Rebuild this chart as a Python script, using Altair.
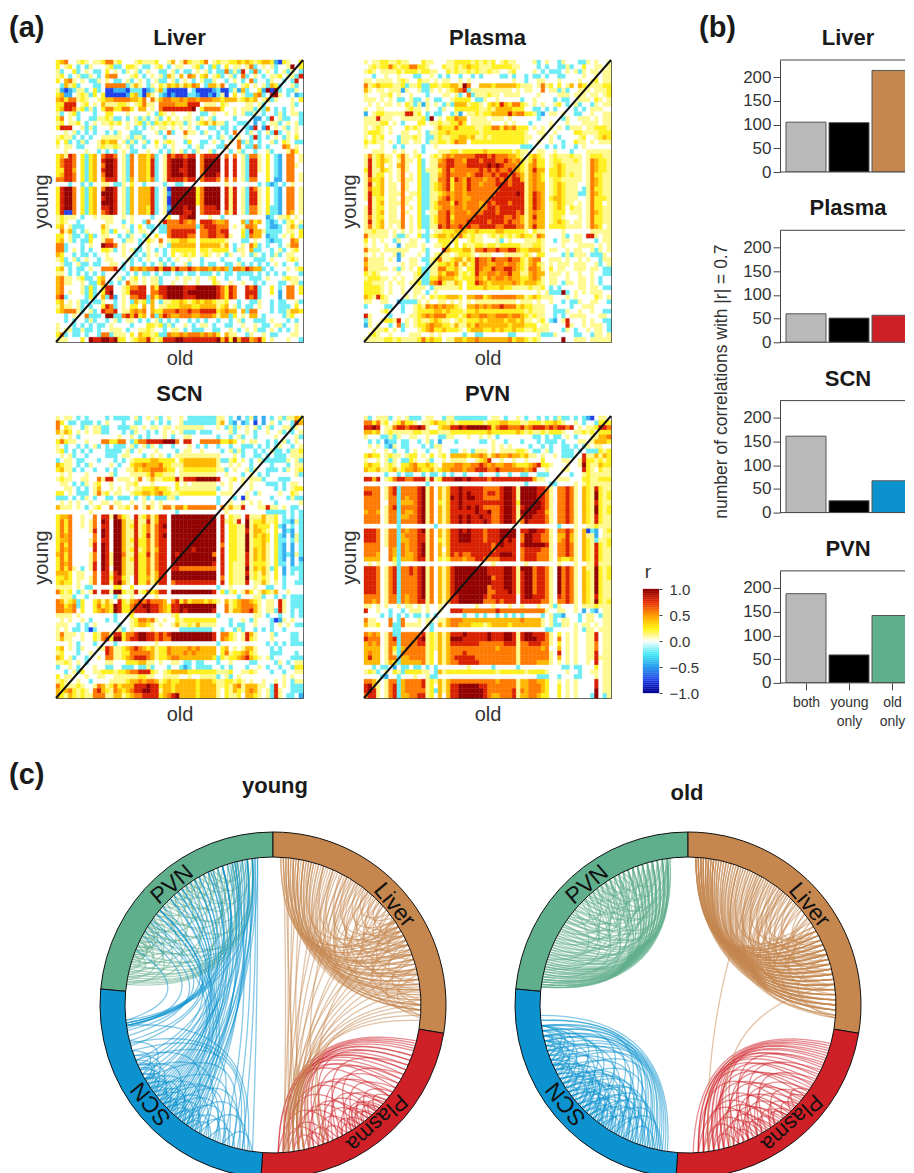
import math
import altair as alt
import pandas as pd
alt.data_transformers.disable_max_rows()
FONT = "Liberation Sans"
INK = "#333333"
DARK = "#1A1A1A"
# Colour classes, 0 = blue ... 3 = white ... 9 = dark red
LEVEL_COLORS = ["#2040E8","#35AEF0","#6CEDF6","#FFFFFF","#FFFA90","#FFF020","#FFB800","#FF7A00","#D92000","#920000"]
LIVER_M = """5673345434 4577453334 5444533463 4754457345 4455656545 6651054335
5345323243 3345223554 3223453234 4334523252 3534434723 4342334935
4233523432 2353432434 2343322342 3223434232 2724283272 3432342432
4532342243 2367733345 3234342643 6376356345 2342372343 2344534428
5367434322 4343223423 4323422342 3432342243 3234323723 3243323283
3264523332 2377777246 4324354656 4657632664 7322345343 4265233423
4101244235 2300111022 2012462000 0032000012 0024162335 1909232243
5611345425 3500000156 2064321010 0022100102 4035342267 2389432312
6757745433 4566777766 5737467766 7677677766 5666456563 4624333435
5588834534 3644455434 5744377776 6688834443 5433334434 2333333423
5688745242 3577557753 6634378888 8889357777 5334344424 2632323433
4234523332 3355333433 3343254343 3343322343 3434342243 2332423442
5734323322 4454223234 2423423534 3443243423 3332333311 3283422332
4534453234 3445453434 5242545454 4243456464 4233222313 2344234342
5888334242 3334333432 3234344343 4343233223 2232332183 1834342343
3343423232 3323243322 2333423723 3744324332 3237332432 3428234343
4544232323 3444443424 4233332333 3433333232 4323433282 3234324353
5352324233 4656634242 3423534543 3253322343 2343724232 3342354322
4344322333 4544543423 3233432343 3323423332 2733732272 3233376343
3343333433 2323234322 3343323243 4232433423 3323423323 3423334753
5648735256 3788734273 6657234878 8788378888 3737342774 3532137734
5788735256 3899834273 6658234899 9899379999 3838342884 3532137734
5788735256 3799834273 6658234899 9899379999 3838342884 3532137743
5588635256 3899834273 6658234899 8899379999 3838342884 3532137733
5688735256 3799834273 6658234899 9899379998 3838342883 3532137734
7788735256 3688834263 6657234888 8788378887 3737342773 3531137734
3332332323 3443224353 3233332332 2333333333 3433333332 3212323433
5899735256 3799834263 6668234099 9999579999 3848342874 3532137734
5899735256 3999834263 6668234199 9999579999 3848342884 3532137734
5899735256 3899834263 6668234099 9999579999 3848342884 3532137734
5899735256 3999834263 6668234099 9999579999 3848342884 3532137734
5899735256 3889834263 6658234199 9899378889 3848342774 3522137734
5800735256 3789834263 6658234099 9889378888 3748342774 3522137634
4544432334 3444334343 3332333533 8899333433 2333333333 3123445343
4543323333 3344332343 3273348777 8767388876 6733362756 3212324534
5634222333 3643334323 5322322777 7777278887 7734347763 3211234642
3746232433 3542533423 4432322788 8888377887 8833352866 4222234435
5534223252 3443323243 3243533788 8877377887 7843352766 3122343535
5634232253 3477332443 2354373455 6655355555 5433322343 3212233763
7723332343 3988734333 2343343266 6666366666 4632343752 3233234773
7723432323 3554234342 2343232355 5555355455 5532443622 3323423453
6533232232 3343334332 3243432353 4545345434 3243343243 2324234433
4523423433 2344333423 2343323234 3343323333 2333233322 2343334543
3422342232 2334432323 3232342323 3423323223 3223423232 3234323323
5632322343 3777832376 7677868868 7787677676 7627768766 2323334345
4432323232 3233333232 3223232232 2322322232 3223222232 3232323332
6744345223 5633342345 3434423334 3443433453 3233233222 3433345443
6744334322 5732323744 3434423343 3433433354 3343343323 2333223442
6733334252 3588334577 8837588999 9888999998 7587338782 3353237735
6734334252 3589334588 8837788999 9899999998 7587338882 3353137735
7823333252 3628134377 8827578999 9888999998 7587338782 3333137733
5634342232 2433234326 4526324455 6545656654 4533233224 3323223342
4644342323 3587234355 3636344555 6665566664 5634232234 3323222353
5677742342 3877834467 6736557778 7787788885 6766362773 3323224665
3323433722 2399227868 5637268766 7776677764 6625343663 2333324533
3323233242 3323423443 2323423232 3323232332 3323423322 2343332323
4333232323 2234333323 3355452423 3432344323 3223343343 2234423343
4344224223 2334443233 4454332344 3232223322 3343234342 2343232343
5723223233 2772444353 6554522766 7677767675 3644332433 4322333443
4443335398 8998955345 6685458889 9888888889 6859688678 5343334332""".split("\n")
PLASMA_M = """4344554454 4333544333 4455554545 4534544333 3423433243 3322434334
3454557545 5775543335 4454565544 4555554433 3323233224 2335334434
4543444454 5554554433 5454454544 5443345333 3432322234 3424344344
3323343343 3322334323 2332332323 3332232332 3223233223 3334334344
4434444345 4335443434 4334343333 3333334332 3344333433 3343345344
7456555445 2445225545 5664973366 6566666544 4347453534 6365444455
6434434441 4334224343 4567824444 4444443434 4337344242 3344434445
4333445343 3433323334 4342372444 5443444433 3343333444 3444344345
4443434322 3422343223 3455553224 3343333323 3433332322 3344435434
3434344343 5424143432 4266645543 5658657754 3434334532 3423324344
4334433333 4544343324 3355555544 5466665553 3223232333 3232344433
1345544444 8845323223 3241344545 5666686775 5421344343 3223343344
4448444334 4444529343 5576634444 3444343333 3323333324 3344434344
4444553432 3335534454 4557534444 4333434333 2333343334 3334444344
4345434333 5454333465 5575555445 5775767555 3434343432 4443445554
4555434334 4334324455 6555555545 5555555554 3344334333 3554444555
4354533324 4454322454 4556656445 4555555554 4334343233 3345334565
5454434324 4344324455 4576635555 5555555554 3343343323 3544343444
4333433232 3333233433 3333333333 3333333322 2333232323 3234333333
3344433434 3343233344 4554555556 5555554544 3344334333 2333444444
4745644357 4345334546 7677777888 7877766543 5654345444 5443455544
4845654347 4435234467 8877688878 8877876754 5755345544 4543476554
4845634367 4335234477 8877788888 9898777654 6755345654 4443476554
5844654347 4335244457 8677777787 8787787654 6866355654 4443476554
4845534347 3435224467 8777767887 7878878764 6765355654 5443475544
4755634347 4435224477 8587687776 7787878864 6765345544 4443476544
4845634437 4335224567 8577687767 7788878884 6766345654 4433476544
4755634437 4335224567 8577687777 7778888884 6766345654 4432475544
4855634447 3445224456 7677677777 7788888984 6876345654 4422476544
4845534437 4435224467 8677667777 7888888884 6876356654 4433475554
3845634447 4335224577 7587677767 8788878884 6876345654 4343475534
4845534437 3435224567 7677677767 8878888884 6876345653 5443475544
4845634437 4335234477 8677767778 8878888784 6766345553 4443476544
4745534437 3435224577 8577777888 8888778764 6866345543 3343475544
4845634447 3435224577 8677788888 7888787764 6766345654 3443475544
4745634347 3435224487 8778787788 8877888774 6866355554 4443476534
4454443434 3434323445 5566655655 5566555554 3544333343 3333344444
7444443422 4335224566 5657545443 4545454565 5476333342 3443884344
5343433243 3443323355 5453345443 3342343334 4454332344 3443332344
4343343313 4443433445 5353544554 5545555544 4554333343 3344443434
7444344444 4333423338 6555664778 7787788655 6664344334 3443342434
4343433414 3334323454 4345554344 4333444445 4355333324 2444322243
7444434313 3443224574 4566465877 6877787754 6773344434 3343433244
6444433334 3443324455 6574645877 6677677654 6754343444 3444334234
7444443424 3435224477 5564355876 6877887654 7764353443 3444344322
5454333343 3345224465 7764545866 7767786644 6766344434 3343343322
4555443434 3344225576 6654555765 7677676655 6764344334 3344343233
5544434344 3445226785 4465355876 5666667656 6654344324 4344343233
5555434334 3344432444 4445355556 5556554444 5445323233 3344344322
5555434334 3344323433 3333333333 3333333333 3343422292 3434344433
6548543333 4343435455 6665366775 6777777664 5654443334 3433335434
4433443312 2224343344 3434343444 4444444344 4343343323 2243344332
2333322332 3345476767 6654366767 6778777565 5444332333 2334443333
3333453332 3345555665 6555455655 5555555554 5444332224 3343343322
8433332333 3445676777 5554576677 6677767765 4544332323 4444333443
2433455483 4345445654 4345455565 6666566564 4345321348 3334343322
1434332372 4345567665 5464465766 6666656665 5534433338 4334344432
3344453432 3334567556 5554356665 5656556554 4544433324 3233434432
3454334333 3444334343 3333233223 3333322333 3342224333 3223324434
4444455454 4445756553 4466566766 6666675665 4543333393 3444344444""".split("\n")
SCN_M = """4344323233 3323222234 2343423433 4322222224 4323132413 1323424465
7532232223 2343332332 2332323233 4222222224 6321312303 1343233286
7354332434 4223322244 3434434434 4444443334 3242434342 3423344243
6465343434 4223332324 3323234343 4222322233 3342334323 3433423234
3434323333 3333343343 2323334323 3443333332 3323423323 3334333342
5754433433 3775577325 7788889997 3883377777 5565343443 3232342343
4323323234 2323222342 3424323323 3343232332 3323322232 3232433234
4523232323 3322223423 4333433332 3443343333 2342423323 2342232445
3434233233 3322234433 3234343234 4444444444 3334323322 3232223444
2344322333 2333232345 5556655553 5666666664 2245343234 2222224342
6544323243 3334323356 6766675544 4666666664 3343433233 3323332344
5644232332 3323233446 5667776553 4555555554 4234334243 3222324345
3434333433 3334233344 4457554443 4444444443 3433323432 3233333342
4544334433 7488344434 7346445558 4888999998 3345343444 2333222333
3443232434 5334333445 3334333335 3434444443 4343343433 3222323443
3344323234 6334343434 4555655435 4444444442 3343333433 3332323455
5534322234 7453443345 5665675544 5555555553 4443334324 3333433543
2223232432 3322322232 3423222442 3333333332 3332304333 3323332422
3434343343 3443443343 3434343333 3333333332 3343343434 3332333334
6444343234 5337344537 3474347747 7577777773 7464483334 4844343223
3333333343 3333333333 3333333332 3333333333 3433333333 3222223232
5667334337 3884975438 4574688399 9999999993 8354438444 6445323232
5757334347 3983996448 4484688399 9999999993 8454839455 6445322142
5757334347 3883996458 4574789399 9999999993 8355449465 5535213232
5757333348 3983996448 4574788399 9999999993 8355448466 5435312132
5767333337 3983996448 4584789399 9999999993 8355449465 6535213142
5667333347 3883996458 5574788399 9999999993 8355449455 6535223242
5757333348 3983996448 5574788399 9999999993 7355449455 6435213132
5767333338 3983996458 4574688399 9998999993 8355449465 6435213132
6757333347 3984997448 5584788398 9999999973 8355448465 6435212142
5757333347 3984996458 5574788399 9999999993 8355448465 6435213131
5767333348 3984996448 5574788399 9999999983 8354448455 5435223132
5757432348 3983996448 5574788388 7777777773 8354449465 6425313222
6665344337 3884896448 5574688399 9999999993 8354448454 6435313232
5565344347 3885885438 5564688399 9999999993 7354449454 5435323332
5655343347 3884896438 5574688378 8888888883 8354448344 6434323322
4444343223 3333553353 3333333333 3333333332 3343333343 3223323333
7545324348 3884995448 4575688399 9999999983 5245347534 6546334333
3444233233 3333243343 3333433333 3333333333 3333233344 2332323222
7645625335 6464385467 8787776378 5756665654 3645677654 3443843222
7756725335 7565985578 8998876588 9999999993 3745677764 3443843222
7766735335 6765985578 8898876588 9899999983 3746677864 3442843232
4444343333 3333233353 3333333345 3333333332 3333333344 3233233232
3434334323 3323233345 7767434335 4555555553 3323343243 3320143433
4443323234 3333323345 6654343346 4454644443 3323223343 3323434322
4343223202 3333342343 3334333333 2222222233 2332423323 2323323333
4744434335 4774885778 9988787899 9999999983 7754348643 3342333223
4644334335 4785995788 9988787799 9999999983 7654348543 3343333223
3334323332 3333233333 3333433333 3333333332 3333333333 3232323222
5634324333 4487445678 7656455766 6676766663 5634346643 3323233333
4533323343 3387445577 7776455766 6767666663 5745567543 3322233323
6534233233 4377445678 8876455677 6666666652 5455678654 3423333222
4454343233 3344333555 6644343344 3223223332 3343333223 3332432344
2334323334 3322332223 2242333233 2123222233 2323332334 3233233255
3323425334 4555455677 8885434566 6655555554 4453344543 3323323344
5344333433 4433444444 5544334444 3343344442 3423433333 3333343433
4543343323 3334444566 7677645655 6666566654 4554543433 4334343244
7544454334 7645756668 8898856656 6666566664 4546746664 4328343222
6567545437 8654765678 8998846656 6666566664 3546546764 3428433222
6546545447 7744664567 7888856789 6666566664 3544536654 3428432231""".split("\n")
PVN_M = """4234442343 4222344332 4422222222 3443233432 3323232422 3232103443
7757453457 5543445655 4545555554 5556655544 5554556543 3432332555
8898344788 7889843356 6889899999 8578877786 7888787887 8343445887
6656345444 4455445544 4555555555 6555555654 5445455543 3445453555
4333224243 3443343322 4433343343 4323333333 3223232234 3233344667
3232312232 2332342313 3323333322 3433233323 3323222323 3344346665
3434321432 2333232443 3333333333 3434343333 2332323322 3232434433
3343343233 2343323343 3223432444 3434444554 3223423322 2323222545
5655345443 4553435345 3666656676 4676676656 4434334322 2338446465
4334342432 2543342334 3444433456 8334334334 3335333344 3348554545
5655345435 5675565436 6677667787 6766776555 6785543334 3349544655
6556445645 6676556456 6777677888 7787777776 7833433344 3338543544
3333323323 2233232232 3233233323 3323323322 3322233333 2334544444
8868345788 7788848458 8899898888 7888888888 8644333444 3335544555
3333333333 3333323333 3333333333 3333333332 3333322333 3434544444
7777347827 7778947364 6889888887 7778998499 9988743778 7436548544
8877347827 7778947364 6889898887 8878998499 9988743778 7436549545
7777347727 6778947364 6989899887 7778998499 9988743778 7436549545
7777337726 6678947354 6889888888 8888998599 9998743778 7436548544
7777347827 7778947364 6889898987 7778998489 9998743778 7436549545
6776347727 6678947364 6888888988 9778998499 9988643778 7436549545
7777347726 6778947364 6889898898 8778998489 9888743778 7436548544
7777347727 7778947364 6889898889 8778998479 8888743778 7436548544
3333333323 3333333233 3333333333 3333333333 3333333233 3433445444
8887347727 6778947364 6889898887 8889999388 9988743778 7436021345
8887347726 7778847364 6889998887 8889999379 9887743668 6436441344
8887347726 6778847354 6889998887 8889898379 9887743678 6436542445
7777347727 6778947364 6888888888 8789888389 9999843778 7436548545
7777337627 6778947363 6888888888 8788888378 8887743778 7436548544
7776337627 6678947364 6878778888 8889998378 8877743778 7436548544
6666337526 6678847354 5777677887 7778888378 8877743655 6436548544
3434333423 3333333333 3333333333 3433333334 3333333433 3433448444
8887347827 7878947364 6899999999 8888998499 9788743978 7436449545
8887347827 7878947364 6899999999 8888998489 9788743978 7436549545
8887347827 7778947364 6899999999 9788998489 9788743978 7436549545
8887347827 7778947364 6899999999 9888998489 9788743978 7436549544
8887347827 7778947364 6899999999 7888998489 9788743978 7436549544
8887347827 7778947364 6899999999 7788898489 9788743978 7436549544
7777347727 6778947364 6889999998 7888888389 9888743878 7436548544
7767347727 6778847364 6889999997 7787888388 8887743778 7436549545
4434343343 4434343343 3333333433 3433343343 3343342433 3434445444
8334332332 3444343343 3888777777 7787777777 7777433443 3431321344
3333232323 2322323233 3333233232 3323232323 3332342213 3323443244
7443337327 3334344344 6777666666 6666666676 6664342344 3323443344
6445337227 4444342364 6776665554 5666656666 6664342244 3434434344
3333333223 3333332333 3333333333 3333333333 3333223333 3432443444
7676347227 7777845464 6888988888 9888998489 9888743534 3433448344
8777347827 7778945464 6999888888 9888998489 9988743734 3433448344
6767347727 7778845464 6888888877 7777888477 8887743534 3433447344
6666347526 7777745464 6777777777 7767777477 7776733634 3433447344
6766347427 7777745364 6777877777 7777777477 7777743834 3433448344
6866347726 6777745364 6788888777 7777777477 7777743634 3433448444
6666346526 6666745364 6778888877 7777777477 7766643434 3433438344
3323223132 2322323233 3333343333 3233333233 3333333322 3223335344
4542343542 5555443264 5555555555 5545555554 5555433334 3323344344
3333213323 3343342233 3333333333 3333333333 3322233233 3223334344
7764347726 7777845464 6777777777 7767777466 7766533434 3433338344
8964347826 7777845364 6889999988 7777777466 7776533534 3433338344
8984347826 7777745264 6889999998 7777778476 7776533534 3433339344
7884347826 6778845363 6889999998 7667778466 7765533534 3433329324""".split("\n")
BAR_CATS = ["both","young only","old only"]
BARS = {"Liver":[105,104,214],"Plasma":[60,51,57],"SCN":[161,25,67],"PVN":[188,59,142]}
COL = {"Liver":"#C6874F","Plasma":"#CF2027","SCN":"#0C93CF","PVN":"#5FAE8C"}
SECT = {"PVN":(275.3,360),"Liver":(0,99.4),"Plasma":(99.4,184),"SCN":(184,275.3)}
# Chord end points, degrees clockwise from the top of the ring
Y_LIVER = "3-62 3-70 4-78 4-85 5-58 5-66 6-74 6-82 6-92 7-60 7-69 8-76 8-84 8-90 9-56 9-64 10-72 10-80 10-88 11-62 12-58 12-68 12-76 13-84 13-92 14-55 14-66 15-72 15-80 16-60 16-87 17-70 18-77 18-64 19-83 20-92 20-58 21-68 22-74 23-86 24-62 24-80 25-70 26-90 27-60 28-76 29-66 30-84 30-58 31-72 32-62 32-90 33-78 34-66 35-82 35-56 36-70 37-60 37-88 38-76 38-52 39-64 40-82 40-58 41-70 42-54 42-78 43-62 44-68 44-86 45-56 46-74 47-60 48-66 48-80 50-62 52-70 52-92 54-66 55-78 56-84 58-72 60-90 62-94 64-82 66-92 70-88 72-95 75-90 78-94"
Y_LIVER_PLASMA = "4-176 6-174 8-172 10-176 5-170 12-168 15-174 20-170 24-175 28-172 34-170 40-174 46-168 50-172 55-170 60-175 64-168 68-172 72-170 76-166 80-172 84-168 88-174 90-160 92-170 94-165 96-172 30-160 58-158"
Y_PLASMA = "104-178 105-174 106-170 107-166 108-176 110-162 110-172 112-168 112-158 114-174 114-152 116-164 116-178 118-170 118-148 120-160 120-176 122-154 122-168 124-146 124-172 126-158 126-140 128-164 128-176 130-150 130-144 132-170 132-156 134-148 134-142 136-160 136-174 138-152 138-146 140-166 140-158 142-150 142-176 144-154 144-170 146-162 146-152 148-172 150-160 152-178 154-166 156-174 158-168 160-176 162-172 128-136 131-139 133-145 135-147 137-143"
Y_SCN = "190-262 192-255 194-248 196-240 198-235 200-230 202-225 204-252 206-218 208-244 210-222 212-236 214-228 216-250 218-232 220-240 222-230 224-246 226-238 228-236 230-242 232-246 234-244 236-250 238-248 240-256 242-252 225-232 215-224 205-214 195-206 188-200 189-210 191-218 193-226 197-212 199-220 201-216 203-232 207-228 209-216 211-226 213-222 217-226 219-234 221-228 223-238 227-234 229-240 233-240 235-242 237-245 239-247"
Y_SCN_PVN = "215-354 217-352 219-350 221-353 223-348 220-346 218-344 216-342 222-340 224-338 226-336 214-352 212-349 210-347 228-345 230-343 225-334 227-332 229-330 231-328 233-326 235-324 237-322 239-320 232-316 213-312 216-310 220-308 224-305 228-302 196-350 192-353 188-354 200-345 262-352 262-345 263-340 262-335 263-328 264-322 262-316 263-310 260-304 261-298 264-292 258-300 256-310 254-320 248-330 244-340 242-318 246-308 240-350 236-340 234-334"
Y_PVN = "278-352 279-346 280-340 281-335 282-350 283-328 284-344 285-322 286-338 287-316 288-348 289-332 290-312 291-342 292-326 293-308 294-336 295-352 296-320 297-306 298-344 299-330 300-314 301-350 302-324 303-338 304-318 305-346 306-328 307-312 308-340 309-322 310-352 311-334 312-318 313-344 314-326 315-350 316-336 317-324 318-342 319-330 320-348 321-334 322-328 323-346 324-338 325-332 326-352 328-344 330-340 332-350 334-346 336-348 278-300 279-310 280-296 281-306 282-292 283-302 285-298 286-304 288-296 290-300 292-302 293-304 295-303 284-290 287-294 289-297 291-299"
O_LIVER = "3-60 3-66 3-72 3-78 3-84 3-90 4-58 4-64 4-70 4-76 4-82 4-88 5-62 5-68 5-74 5-80 5-86 5-92 6-56 6-60 6-66 6-72 6-78 6-84 7-64 7-70 7-76 7-82 7-88 8-58 8-62 8-68 8-74 8-80 8-90 9-66 9-72 9-78 9-84 10-60 10-64 10-70 10-76 10-82 10-88 11-68 11-74 11-92 12-62 12-80 12-86 13-66 13-72 13-78 14-60 14-84 15-70 15-76 15-90 16-64 16-82 17-68 17-74 17-88 18-62 18-80 19-70 19-86 20-66 20-76 20-92 21-82 21-60 22-72 22-88 23-68 23-78 24-84 24-62 25-74 25-90 26-66 26-80 27-70 27-86 28-76 28-60 29-82 29-92 30-68 30-78 31-72 31-88 32-64 32-84 33-76 33-90 34-70 34-80 35-66 35-86 36-74 36-62 37-82 37-92 38-70 38-78 39-88 39-66 40-76 40-84 41-72 41-90 42-68 42-80 43-86 44-74 44-64 45-82 45-92 46-70 47-78 47-88 48-74 49-84 50-66 50-90 52-76 52-70 54-82 54-92 56-78 58-86 60-94 55-95 70-95 40-94 30-94 20-95"
O_LIVER_PLASMA = "28-172 82-163"
O_PLASMA = "105-178 106-174 107-170 108-166 109-176 110-160 111-172 112-168 113-156 114-174 115-164 116-152 117-170 118-158 119-176 120-148 121-166 122-154 123-172 124-162 125-150 126-168 127-144 128-174 129-156 130-164 131-152 132-170 133-146 134-160 135-176 136-156 137-166 138-150 139-172 140-158 141-162 142-152 143-168 144-174 145-156 146-164 147-170 148-160 149-176 150-166 152-172 153-162 155-168 157-174 160-170 138-146 132-140 128-136 125-134 136-144"
O_SCN = "188-266 189-262 190-258 191-254 192-250 193-264 194-246 195-260 196-242 197-256 198-238 199-252 200-264 201-234 202-248 203-260 204-230 205-244 206-256 207-226 208-240 209-252 210-262 211-222 212-236 213-248 214-258 215-218 216-232 217-244 218-254 219-228 220-240 221-262 222-250 223-234 224-246 225-258 226-238 227-252 228-242 229-260 230-236 231-248 232-256 233-244 234-250 235-262 236-246 237-254 238-248 239-258 240-252 241-247 242-256 243-262 244-254 245-260 196-228 198-222 200-220 202-216 204-226 206-222 208-218 210-224 212-228 214-226 216-224 218-232 190-210 191-215 192-220 193-206 194-224 195-212 197-218 199-230 201-226 203-236 205-232 207-238 209-234 211-240 213-230 215-236 217-238 219-234 221-242 223-240 225-244 227-246 246-256 248-258 248-262 250-262 250-256 252-258 254-260"
O_PVN = "277-353 277-346 277-338 277-330 278-352 278-344 278-336 278-326 279-350 279-342 279-332 279-322 280-353 280-346 280-340 280-328 281-351 281-336 281-318 282-348 282-342 282-330 283-352 283-324 283-338 284-346 284-334 284-314 285-350 285-340 285-328 286-344 286-320 286-352 287-336 287-348 288-330 288-342 288-310 289-350 289-326 290-346 290-338 290-316 291-352 291-332 292-344 292-322 293-348 293-336 294-328 294-350 295-340 295-318 296-346 296-332 297-352 297-324 298-342 298-336 299-348 299-328 300-344 300-320 301-350 301-334 302-340 302-326 303-352 303-346 304-332 304-316 305-342 305-348 306-328 306-338 307-352 307-322 308-344 308-334 309-350 310-340 310-326 311-346 312-332 312-352 313-342 314-336 315-348 315-324 316-344 317-338 318-352 318-330 319-346 320-340 321-350 322-334 323-344 324-352 325-338 326-348 328-342 330-352 332-346 334-350"
CB_TICKS = [-1,-0.5,0,0.5,1]
CB_STOPS = [(-1,"#00008B"),(-0.75,"#2040E8"),(-0.5,"#2C9CF0"),(-0.25,"#3FE8F4"),(0,"#FFFFFF"),(0.25,"#FFF200"),(0.5,"#FF9A00"),(0.75,"#E62A00"),(1,"#8B0000")]

def cb_colour(v):
    for (a,ca),(b,cb_) in zip(CB_STOPS,CB_STOPS[1:]):
        if a<=v<=b:
            t=(v-a)/(b-a)
            p=[int(ca[i:i+2],16) for i in (1,3,5)]
            q=[int(cb_[i:i+2],16) for i in (1,3,5)]
            return "#%02X%02X%02X"%tuple(round(x+(y-x)*t) for x,y in zip(p,q))
    return CB_STOPS[-1][1]

def label(t,x,y,size=22,bold=True,align="center",angle=0,color=DARK):
    kw={"angle":angle} if angle else {}
    return alt.Chart(pd.DataFrame({"t":[t]})).mark_text(font=FONT,fontWeight="bold" if bold else "normal",fontSize=size,align=align,color=color,**kw).encode(text="t:N",x=alt.value(x),y=alt.value(y))

def heat(name,rows,extra=None):
    recs=[]
    for i,s in enumerate(rows):
        s=s.replace(" ","")[:60].ljust(60,"3")
        for j,c in enumerate(s):
            recs.append({"row":i,"col":j,"c":LEVEL_COLORS[int(c)]})
    ax=dict(labels=False,ticks=False,domain=False,titleFontSize=20,titleFontWeight="normal",titleFont=FONT,titleColor=INK)
    base=alt.Chart(pd.DataFrame(recs)).mark_rect(strokeWidth=0.4).encode(
        x=alt.X("col:O",axis=alt.Axis(title="old",titlePadding=6,**ax),scale=alt.Scale(paddingInner=0,paddingOuter=0)),
        y=alt.Y("row:O",axis=alt.Axis(title="young",titlePadding=5,**ax),scale=alt.Scale(paddingInner=0,paddingOuter=0)),
        color=alt.Color("c:N",scale=None),
        stroke=alt.Stroke("c:N",scale=None))
    diag=alt.Chart(pd.DataFrame({"a":[0]})).mark_rule(color="#111111",strokeWidth=2).encode(x=alt.value(0),x2=alt.value(247),y=alt.value(282),y2=alt.value(0))
    layers=[base,diag,label(name,123.5,-22)]
    if extra: layers.append(extra)
    return alt.layer(*layers).properties(width=247,height=282)

def hline(y,x0,x1):
    return alt.Chart(pd.DataFrame({"a":[0]})).mark_rule(color="#444444",strokeWidth=1).encode(x=alt.value(x0),x2=alt.value(x1),y=alt.value(y))

def bar(name,last=False,extra=None):
    df=pd.DataFrame({"cat":BAR_CATS,"n":BARS[name],"c":["#B9B9B9","#000000",COL[name]]})
    xax=alt.Axis(title=None,labelFontSize=14,labelFont=FONT,labelColor=INK,labelAngle=0,tickColor="#444444",tickSize=7,domain=False,labelPadding=6,labelLineHeight=19,labelBaseline="top",labelExpr="datum.label=='both'?'both':datum.label=='young only'?['young','only']:['old','only']") if last else None
    b=alt.Chart(df).mark_bar(width=40,stroke="#555555",strokeWidth=1,clip=True).encode(
        x=alt.X("cat:N",sort=BAR_CATS,axis=xax,scale=alt.Scale(type="point",domain=BAR_CATS,range=[26,112],padding=0)),
        y=alt.Y("n:Q",scale=alt.Scale(domain=[0,236],nice=False),axis=alt.Axis(title=None,values=[0,50,100,150,200],labelFontSize=17,labelFont=FONT,labelColor=INK,tickSize=7,tickColor="#444444",grid=False,domain=True,domainColor="#444444",labelPadding=2)),
        color=alt.Color("c:N",scale=None))
    layers=[b,hline(0,0,125),hline(112,0,125),label(name,68,-22)]
    if extra: layers.append(extra)
    return alt.layer(*layers).properties(width=125,height=112,view=alt.ViewConfig(stroke=None))

def chord_pts(a,b,n=20):
    ra,rb=math.radians(a),math.radians(b)
    p0=(math.sin(ra),math.cos(ra)); p2=(math.sin(rb),math.cos(rb))
    span=abs(b-a)
    if span>180: span=360-span
    c=max(0.1,1-2.2*math.sin(math.radians(span/2)))
    mx,my=p0[0]+p2[0],p0[1]+p2[1]
    L=math.hypot(mx,my) or 1
    cx,cy=mx/L*c,my/L*c
    out=[]
    for i in range(n+1):
        t=i/n
        out.append(((1-t)**2*p0[0]+2*t*(1-t)*cx+t*t*p2[0],(1-t)**2*p0[1]+2*t*(1-t)*cy+t*t*p2[1],t))
    return out
R_IN=148
def chord(title,sets,W,cx,tx,ty,extra=None):
    recs=[];k=0
    for g,s in sets:
        for p in s.split():
            a,b=p.split("-")
            for x,y,t in chord_pts(float(a),float(b)):
                recs.append({"x":round(x*R_IN,2),"y":round(y*R_IN,2),"t":t,"id":k,"g":COL[g]})
            k+=1
    H=418;cy=245
    xs=alt.Scale(domain=[-cx,W-cx],nice=False,zero=False)
    ys=alt.Scale(domain=[cy-H,cy],nice=False,zero=False)
    lines=alt.Chart(pd.DataFrame(recs)).mark_line(strokeWidth=1.3,opacity=0.5).encode(
        x=alt.X("x:Q",scale=xs,axis=None),y=alt.Y("y:Q",scale=ys,axis=None),detail="id:N",order="t:Q",
        color=alt.Color("g:N",scale=None))
    sec=pd.DataFrame([{"n":k,"a":v[0],"b":v[1],"c":COL[k]} for k,v in SECT.items()])
    ring=alt.Chart(sec).mark_arc(radius=173,radius2=148,stroke="#111111",strokeWidth=1).encode(
        theta=alt.Theta("a:Q",scale=alt.Scale(domain=[0,360],range=[0,2*math.pi]),stack=None),theta2="b:Q",
        color=alt.Color("c:N",scale=None),x=alt.value(cx),y=alt.value(cy))
    lab=[("PVN",-40,23),("Liver",50.5,23),("Plasma",138.6,22),("SCN",231,23)]
    txt=[]
    for t,a,fs in lab:
        d=pd.DataFrame({"t":[t],"x":[157*math.sin(math.radians(a))],"y":[157*math.cos(math.radians(a))]})
        txt.append(alt.Chart(d).mark_text(font=FONT,fontSize=fs,angle=int((a+360)%360),color="#111111").encode(text="t:N",x=alt.X("x:Q",scale=xs,axis=None),y=alt.Y("y:Q",scale=ys,axis=None)))
    layers=[lines,ring,*txt,label(title,tx,ty)]
    if extra: layers.append(extra)
    return alt.layer(*layers).properties(width=W,height=H,view=alt.ViewConfig(stroke=None))

cb_lo=[round(-1+i*0.04,2) for i in range(50)]
cb=pd.DataFrame({"lo":cb_lo,"hi":[round(v+0.04,2) for v in cb_lo],"c":[cb_colour(v+0.02) for v in cb_lo]})
cbar=alt.layer(
    alt.Chart(cb).mark_rect(strokeWidth=0.3).encode(
        x=alt.value(30),x2=alt.value(46),
        y=alt.Y("lo:Q",scale=alt.Scale(domain=[-1,1],range=[633,529],nice=False,zero=False),
                axis=alt.Axis(orient="right",title=None,values=CB_TICKS,format=".1f",labelFontSize=15,labelFont=FONT,labelColor=INK,tickSize=3,tickColor="#444444",labelPadding=7,grid=False,domain=False)),
        y2="hi:Q",
        color=alt.Color("c:N",scale=None),
        stroke=alt.Stroke("c:N",scale=None)),
    label("r",35,512,size=19,bold=False,color=INK)
).properties(width=46,height=638,view=alt.ViewConfig(stroke=None))

hm=alt.concat(heat("Liver",LIVER_M,extra=label("(a)",-47,-32,size=29,align="left")),heat("Plasma",PLASMA_M),heat("SCN",SCN_M),heat("PVN",PVN_M),columns=2,spacing={"row":74,"column":61},bounds="flush")
bars=alt.vconcat(bar("Liver",extra=label("(b)",-81,-32,size=29,align="left")),bar("Plasma"),
    bar("SCN",extra=label("number of correlations with |r| = 0.7",-58,-19,size=17.5,bold=False,angle=270,color=INK)),bar("PVN",last=True),spacing=58.3,bounds="flush")
top=alt.hconcat(hm,cbar,bars,spacing=0)
Y_SETS=[("Plasma",Y_PLASMA),("Liver",Y_LIVER),("Liver",Y_LIVER_PLASMA),("PVN",Y_PVN),("SCN",Y_SCN),("SCN",Y_SCN_PVN)]
O_SETS=[("Plasma",O_PLASMA),("Liver",O_LIVER),("Liver",O_LIVER_PLASMA),("PVN",O_PVN),("SCN",O_SCN)]
bot=alt.hconcat(chord("young",Y_SETS,434,217,219,26,extra=label("(c)",-47,15,size=29,align="left")),chord("old",O_SETS,396,198,197,33),spacing=0,bounds="flush")
chart=alt.vconcat(top,bot,spacing=31).properties(padding={"top":5,"left":0,"right":0,"bottom":0}).configure_view(stroke="#444444",strokeWidth=1).configure_concat(spacing=0)
chart.save("out.html",embed_options={"renderer":"svg","actions":False})
